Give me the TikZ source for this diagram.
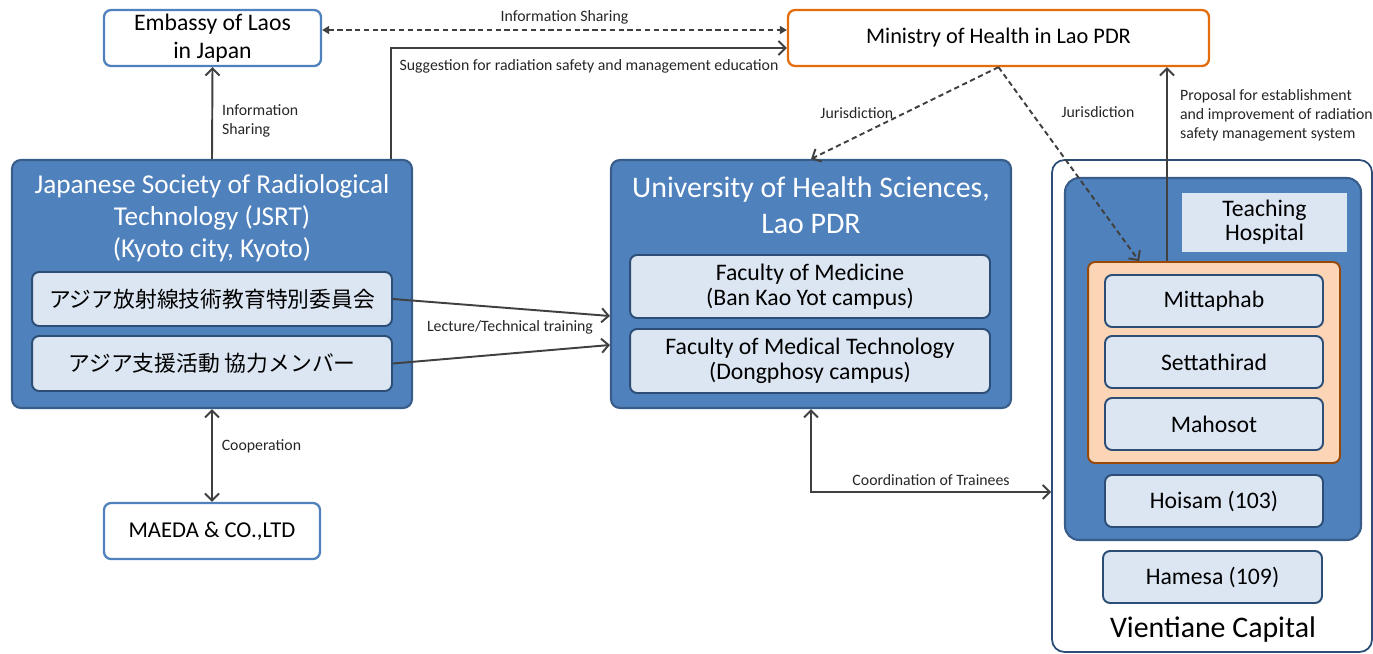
\documentclass[tikz,border=0pt]{standalone}
\usepackage{fontspec}
\setmainfont{Carlito}
\newfontfamily\jpfont{Noto Sans CJK JP}
\usetikzlibrary{arrows.meta}

\definecolor{orgblue}{HTML}{4F81BD}
\definecolor{orgedge}{HTML}{385D8A}
\definecolor{unitfill}{HTML}{DCE6F2}
\definecolor{unitedge}{HTML}{2C4D75}
\definecolor{mohedge}{HTML}{E46C0A}
\definecolor{hospfill}{HTML}{FBD5B5}
\definecolor{hospedge}{HTML}{984807}
\definecolor{linkgray}{HTML}{404040}

\begin{document}
\begin{tikzpicture}[x=0.02cm, y=-0.02cm,
    orgbox/.style={draw=orgedge, fill=orgblue, line width=1.2pt, rounded corners=5pt, inner sep=0pt},
    unitbox/.style={draw=unitedge, fill=unitfill, line width=1.1pt, rounded corners=4pt, inner sep=0pt,
      align=center, font=\fontsize{13.5}{14.5}\selectfont},
    partner/.style={draw=orgblue, fill=white, line width=1.3pt, rounded corners=4pt, inner sep=0pt,
      align=center, font=\fontsize{13.5}{16}\selectfont, minimum height=1.12cm},
    orgtitle/.style={text=white, align=center, inner sep=0pt},
    link/.style={draw=linkgray, line width=1.1pt, -{Straight Barb[length=4pt,width=8pt]}},
    twoway/.style={link, {Straight Barb[length=4pt,width=8pt]}-{Straight Barb[length=4pt,width=8pt]}},
    dashlink/.style={link, dash pattern=on 3pt off 2pt},
    lbl/.style={font=\fontsize{9}{10.8}\selectfont, text=black!85, inner sep=1pt},
  ]
  %picture area, in pixels of the reference:
  \useasboundingbox (0,0) rectangle (1373,653);

  % partners
  \node[partner, minimum width=4.34cm] (embassy) at (212.5,38) {Embassy of Laos\\in Japan};
  \node[partner, minimum width=4.32cm, font=\fontsize{12.9}{15}\selectfont] (maeda) at (212,531) {MAEDA \& CO.,LTD};
  \node[partner, draw=mohedge, minimum width=8.42cm, font=\fontsize{12.7}{15}\selectfont] (moh) at (998.5,38) {Ministry of Health in Lao PDR};

  % JSRT and its committees
  \node[orgbox, minimum width=8cm, minimum height=4.96cm] (jsrt) at (212,284) {};
  \node[orgtitle, font=\fontsize{15.5}{18.1}\selectfont] (jsrttitle) at (212,218)
    {Japanese Society of Radiological\\Technology (JSRT)\\(Kyoto city, Kyoto)};
  \node[unitbox, minimum width=7.2cm, minimum height=1.08cm, font=\fontsize{12.4}{14}\jpfont] (jpcomm) at (212,299) {アジア放射線技術教育特別委員会};
  \node[unitbox, minimum width=7.2cm, minimum height=1.1cm, font=\fontsize{12.4}{14}\jpfont] (jpmember) at (212,363.5) {アジア支援活動 協力メンバー};

  % university
  \node[orgbox, minimum width=8cm, minimum height=4.96cm] (uhs) at (811,284) {};
  \node[orgtitle, font=\fontsize{17}{20.4}\selectfont] (uhstitle) at (811,205) {University of Health Sciences,\\Lao PDR};
  \node[unitbox, minimum width=7.2cm, minimum height=1.26cm] (fmed) at (810,286.5) {Faculty of Medicine\\(Ban Kao Yot campus)};
  \node[unitbox, minimum width=7.2cm, minimum height=1.28cm] (fmt) at (810,361) {Faculty of Medical Technology\\(Dongphosy campus)};

  % Vientiane capital, teaching hospitals
  \node[draw=unitedge, fill=white, line width=1pt, rounded corners=7pt, minimum width=6.4cm, minimum height=9.84cm] (vte) at (1212,406) {};
  \node[orgbox, rounded corners=8pt, minimum width=5.92cm, minimum height=7.24cm] (th) at (1213,359) {};
  \node[fill=unitfill, inner sep=0pt, minimum width=3.3cm, minimum height=1.18cm, align=center,
    font=\fontsize{13.5}{13.6}\selectfont] (thlabel) at (1264.5,222.5) {Teaching\\Hospital};
  \node[draw=hospedge, fill=hospfill, line width=1.1pt, rounded corners=4pt, minimum width=5.04cm, minimum height=4.02cm] (hosp) at (1214,362.5) {};
  \foreach \name/\y/\txt in {mitt/301/Mittaphab, sett/362/Settathirad, maho/424/Mahosot, hoisam/501/Hoisam (103)}
    \node[unitbox, minimum width=4.36cm, minimum height=1.04cm] (\name) at (1214,\y) {\txt};
  \node[unitbox, minimum width=4.38cm, minimum height=1.04cm] (hamesa) at (1212.5,577) {Hamesa (109)};
  \node[font=\fontsize{17}{20}\selectfont] (vtetitle) at (1213,630) {Vientiane Capital};

  % links between the bodies
  \draw[link] (jsrt.north) -- (embassy.south);
  \node[lbl, anchor=west, align=left] (infolbl) at (220,121) {Information\\Sharing};
  \draw[link] ([xshift=-0.44cm]jsrt.north east) |- ([yshift=-0.2cm]moh.west)
    node[lbl, pos=0.75, below=5pt] {Suggestion for radiation safety and management education};
  \draw[dashlink, {Triangle[length=4pt,width=4.5pt]}-{Triangle[length=4pt,width=4.5pt]}]
    ([yshift=0.16cm]embassy.east) -- ([yshift=0.16cm]moh.west)
    node[lbl, midway, above=2pt, xshift=0.2cm] {Information Sharing};
  \draw[dashlink] (moh.south) -- (uhs.north) node[lbl, midway, left=5pt] {Jurisdiction};
  \draw[dashlink] (moh.south) -- ([xshift=1.04cm]hosp.north west);
  \node[lbl] (jur2) at (1098,112) {Jurisdiction};
  \coordinate (propfoot) at ([xshift=1.6cm]hosp.north west);
  \draw[link] (propfoot) -- (propfoot |- moh.south);
  \node[lbl, anchor=west, align=left] (proplbl) at (1178,115)
    {Proposal for establishment\\and improvement of radiation\\safety management system};
  \draw[link] (jpcomm.east) -- ([yshift=-0.64cm]uhs.west);
  \draw[link] (jpmember.east) -- ([yshift=-1.22cm]uhs.west);
  \node[lbl] (lecturelbl) at (510,327) {Lecture/Technical training};
  \draw[twoway] (jsrt.south) -- (maeda.north) node[lbl, pos=0.4, right=4pt] {Cooperation};
  \draw[twoway] (uhs.south) |- ([yshift=-1.72cm]vte.west) node[lbl, pos=0.75, above=2pt] {Coordination of Trainees};
\end{tikzpicture}
\end{document}
